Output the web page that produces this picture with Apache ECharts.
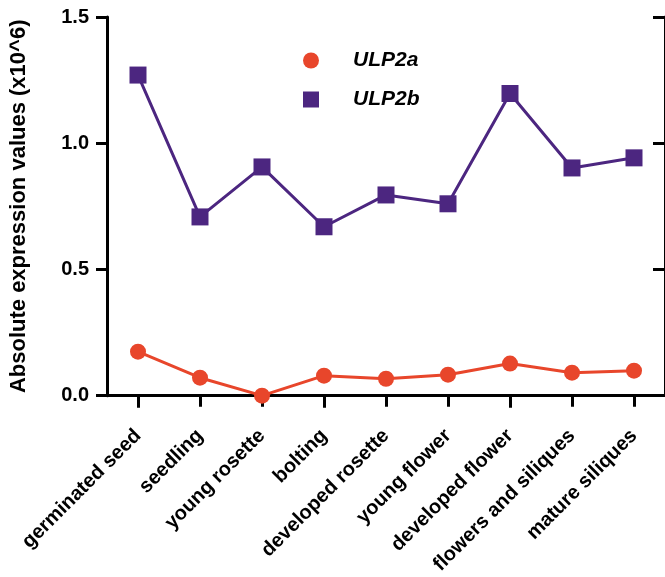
<!DOCTYPE html>
<html>
<head>
<meta charset="utf-8">
<script src="https://cdn.jsdelivr.net/npm/echarts@6/dist/echarts.min.js"></script>
<style>
html,body{margin:0;padding:0;background:#fff;}
#chart{width:665px;height:577px;}
</style>
</head>
<body>
<div id="chart"></div>
<script>
const categories = ['germinated seed','seedling','young rosette','bolting','developed rosette','young flower','developed flower','flowers and siliques','mature siliques'];
const ulp2a = [0.174, 0.071, 0.0, 0.079, 0.067, 0.083, 0.127, 0.091, 0.099];
const ulp2b = [1.270, 0.708, 0.906, 0.669, 0.795, 0.760, 1.197, 0.902, 0.942];
const yTicks = [0, 0.5, 1.0, 1.5];

const FONT = '"Liberation Sans", Arial, Helvetica, sans-serif';
const ORANGE = '#e8462b';
const PURPLE = '#4c2680';

const chart = echarts.init(document.getElementById('chart'));
const axisLine = {show: true, lineStyle: {color: '#000', width: 3}};
const option = {
  animation: false,
  backgroundColor: '#fff',
  grid: {left: 106, right: -8, top: 17, bottom: 181, containLabel: false},
  legend: {
    orient: 'vertical',
    left: 298,
    top: 45,
    itemWidth: 16,
    itemHeight: 16,
    itemGap: 18,
    data: [{name: 'ULP2a', icon: 'circle'}, {name: 'ULP2b', icon: 'rect'}],
    textStyle: {fontFamily: FONT, fontSize: 21, fontWeight: 'bold', fontStyle: 'italic', color: '#000', padding: [2, 0, 0, 29]}
  },
  xAxis: [
    {
      type: 'category', position: 'bottom', data: categories, boundaryGap: true,
      axisLine: axisLine,
      axisTick: {show: true, alignWithLabel: true, inside: false, length: 11, lineStyle: {color: '#000', width: 3}},
      axisLabel: {show: true, rotate: 45, margin: 37, interval: 0, fontFamily: FONT, fontSize: 20, fontWeight: 'bold', color: '#000'},
      splitLine: {show: false}
    },
    {
      type: 'category', position: 'top', data: categories, boundaryGap: true,
      axisLine: axisLine,
      axisTick: {show: true, alignWithLabel: true, inside: true, length: 12, lineStyle: {color: '#000', width: 3}},
      axisLabel: {show: false},
      splitLine: {show: false}
    }
  ],
  yAxis: [
    {
      type: 'value', position: 'left', min: yTicks[0], max: yTicks[yTicks.length - 1], interval: 0.5,
      name: 'Absolute expression values (x10^6)',
      nameLocation: 'middle', nameGap: 77,
      nameTextStyle: {fontFamily: FONT, fontSize: 22, fontWeight: 'bold', color: '#000'},
      axisLine: axisLine,
      axisTick: {show: true, inside: false, length: 11, lineStyle: {color: '#000', width: 3}},
      axisLabel: {show: true, margin: 18, fontFamily: FONT, fontSize: 20, fontWeight: 'bold', color: '#000', formatter: v => v.toFixed(1)},
      splitLine: {show: false}
    },
    {
      type: 'value', position: 'right', min: yTicks[0], max: yTicks[yTicks.length - 1], interval: 0.5,
      axisLine: axisLine,
      axisTick: {show: true, inside: true, length: 12, lineStyle: {color: '#000', width: 3}},
      axisLabel: {show: false},
      splitLine: {show: false}
    }
  ],
  series: [
    {
      name: 'ULP2a', type: 'line', data: ulp2a, xAxisIndex: 0, yAxisIndex: 0,
      symbol: 'circle', symbolSize: 16,
      itemStyle: {color: ORANGE},
      lineStyle: {color: ORANGE, width: 3},
      z: 3
    },
    {
      name: 'ULP2b', type: 'line', data: ulp2b, xAxisIndex: 0, yAxisIndex: 0,
      symbol: 'rect', symbolSize: 17,
      itemStyle: {color: PURPLE},
      lineStyle: {color: PURPLE, width: 3},
      z: 3
    }
  ]
};
chart.setOption(option);
</script>
</body>
</html>
